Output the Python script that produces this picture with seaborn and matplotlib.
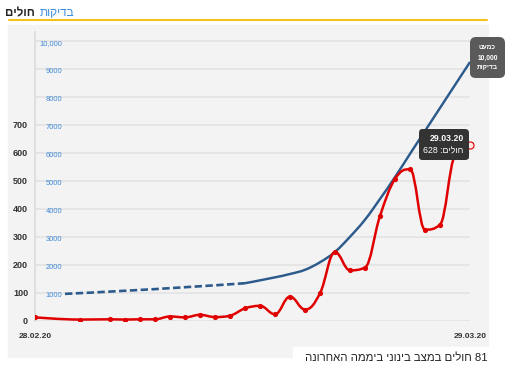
import re
import matplotlib
matplotlib.use('Agg')
import matplotlib.pyplot as plt
import seaborn as sns
from matplotlib.path import Path
from matplotlib.patches import PathPatch, Rectangle
from matplotlib.lines import Line2D
from matplotlib.offsetbox import AnnotationBbox, TextArea, VPacker
from matplotlib.ticker import FuncFormatter

# patients (red), day index from 28.02.20
days = [0, 3, 5, 6, 7, 8, 9, 10, 11, 12, 13, 14, 15, 16, 17, 18, 19, 20,
        21, 22, 23, 24, 25, 26, 27, 28, 29]
patients = [12, 4, 5, 4, 5, 5, 15, 12, 21, 13, 18, 44, 53, 23, 86, 40, 98, 245,
            180, 190, 374, 506, 541, 325, 343, 592, 628]

# tests (blue), dashed part up to day 14
test_days = [2, 8, 14, 16, 17, 18, 19, 20, 21, 22, 23, 24, 25, 26, 27, 28, 29]
tests = [1040, 1210, 1420, 1630, 1750, 1900, 2170, 2540, 3080, 3690, 4430,
         5210, 6040, 6860, 7680, 8500, 9320]
dashed_until = 3

date_labels = ['28.02.20', '29.03.20']
patient_ticks = [0, 100, 200, 300, 400, 500, 600, 700]
test_ticks = [1000, 2000, 3000, 4000, 5000, 6000, 7000, 8000, 9000, 10000]

title_active = 'חולים'
title_link = 'בדיקות'
tooltip_date = '29.03.20'
tooltip_text = 'חולים: 628'
bubble_lines = ['כמעט', '10,000', 'בדיקות']
footer = '81 חולים במצב בינוני ביממה האחרונה'

RED = '#e10000'
BLUE = '#2d5a8c'
LABEL_BLUE = '#4189d6'


def vis(s):
    # matplotlib has no bidi support, so put hebrew into visual order
    r = s[::-1]
    return re.sub(r'[0-9][0-9.,]*[0-9]|[0-9]', lambda m: m.group()[::-1], r)


def spline(xs, ys):
    # highcharts-like spline (smoothing 1.5)
    sm, den = 1.5, 2.5
    n = len(xs)
    left, right = [None] * n, [None] * n
    for i in range(n):
        px, py = xs[i], ys[i]
        if i == 0 or i == n - 1:
            left[i] = right[i] = (px, py)
            continue
        lx, ly = xs[i - 1], ys[i - 1]
        nx, ny = xs[i + 1], ys[i + 1]
        lcx, lcy = (sm * px + lx) / den, (sm * py + ly) / den
        rcx, rcy = (sm * px + nx) / den, (sm * py + ny) / den
        if rcx != lcx:
            corr = (rcy - lcy) * (rcx - px) / (rcx - lcx) + py - rcy
            lcy += corr
            rcy += corr
        if lcy > ly and lcy > py:
            lcy = max(ly, py); rcy = 2 * py - lcy
        elif lcy < ly and lcy < py:
            lcy = min(ly, py); rcy = 2 * py - lcy
        if rcy > ny and rcy > py:
            rcy = max(ny, py); lcy = 2 * py - rcy
        elif rcy < ny and rcy < py:
            rcy = min(ny, py); lcy = 2 * py - rcy
        left[i], right[i] = (lcx, lcy), (rcx, rcy)
    verts = [(xs[0], ys[0])]
    codes = [Path.MOVETO]
    for i in range(1, n):
        verts += [right[i - 1], left[i], (xs[i], ys[i])]
        codes += [Path.CURVE4] * 3
    return Path(verts, codes)


sns.set_style('white')
plt.rcParams['font.family'] = ['Liberation Sans', 'DejaVu Sans']

W, H = 514, 389
fx = lambda p: p / W
fy = lambda p: 1 - p / H

fig = plt.figure(figsize=(W / 100, H / 100), dpi=100)

# page furniture
fig.add_artist(Rectangle((fx(8), fy(357)), fx(488) - fx(8), fy(25) - fy(357),
                         transform=fig.transFigure, color='#f3f3f3', zorder=-2))
fig.add_artist(Rectangle((fx(293), fy(389)), fx(492) - fx(293), fy(347) - fy(389),
                         transform=fig.transFigure, color='white', zorder=-1))
fig.add_artist(Line2D([fx(9), fx(487)], [fy(20), fy(20)], color='#f2c21b', lw=1.5))
fig.text(fx(5), fy(13), vis(title_active), ha='left', va='center', fontsize=8.3,
         fontweight='bold', color='#222222')
fig.text(fx(40), fy(13), vis(title_link), ha='left', va='center', fontsize=8.5,
         color='#3b8ee0')
fig.text(fx(488), fy(358), vis(footer), ha='right', va='center', fontsize=8.2,
         color='#222222')

ax = fig.add_axes([fx(35), fy(320.7), fx(470) - fx(35), fy(32.3) - fy(320.7)])
ax.set_facecolor('none')
ax.set_xlim(0, 29)
ax.set_ylim(0, 1030)
ax.set_yticks(range(0, 1001, 100))
ax.yaxis.set_major_formatter(FuncFormatter(
    lambda v, p: f'{int(v)}' if v in patient_ticks else ''))
ax.grid(axis='y', color='#e4e4e4', lw=1.3)
ax.set_axisbelow(True)
ax.set_xticks([0, 29])
ax.set_xticklabels(date_labels)
ax.tick_params(axis='x', length=0, pad=9, labelsize=6, labelcolor='#333333')
ax.tick_params(axis='y', length=0, pad=5, labelsize=6.5, labelcolor='#333333')
for t in ax.get_xticklabels() + ax.get_yticklabels():
    t.set_fontweight('bold')
sns.despine(ax=ax, top=True, right=True, bottom=True)
ax.spines['left'].set_color('#dcdcdc')
ax.spines['left'].set_linewidth(1.2)

# tests scale, labels drawn inside the plot
ax2 = ax.twinx()
ax2.set_ylim(82, 10382)
ax2.set_yticks(test_ticks)
ax2.yaxis.set_major_formatter(FuncFormatter(
    lambda v, p: f'{int(v):,}' if v >= 10000 else f'{int(v)}'))
ax2.yaxis.tick_left()
ax2.tick_params(axis='y', length=0, pad=-19.5, labelsize=5.4, labelcolor=LABEL_BLUE)
for s in ax2.spines.values():
    s.set_visible(False)
ax2.patch.set_visible(False)

# blue tests line (drawn on ax with the tests scale)
ax.add_patch(PathPatch(spline(test_days[:dashed_until], tests[:dashed_until]),
                       transform=ax2.transData, fill=False, ec=BLUE, lw=1.9,
                       ls=(0, (2.8, 1.3)), capstyle='butt', zorder=3))
ax.add_patch(PathPatch(spline(test_days[dashed_until - 1:], tests[dashed_until - 1:]),
                       transform=ax2.transData, fill=False, ec=BLUE, lw=1.75,
                       zorder=3))

# red patients line
ax.add_patch(PathPatch(spline(days, patients), fill=False, ec=RED, lw=1.8, zorder=4))
sns.scatterplot(x=days[:-1], y=patients[:-1], ax=ax, color=RED, s=14, linewidth=0,
                zorder=5, legend=False)
sns.scatterplot(x=days[-1:], y=patients[-1:], ax=ax, color='#ffe5e5', s=26,
                edgecolor=RED, linewidth=0.8, zorder=6, legend=False, clip_on=False)

# tooltip
tip = VPacker(children=[
    TextArea(tooltip_date, textprops=dict(color='white', fontsize=6.3, fontweight='bold')),
    TextArea(vis(tooltip_text), textprops=dict(color='white', fontsize=6.3)),
], align='right', pad=0, sep=2.5)
ab = AnnotationBbox(tip, (days[-1], patients[-1]), xybox=(-4.5, 0),
                    boxcoords='offset points', box_alignment=(1, 0.5),
                    pad=0.35, annotation_clip=False, zorder=7,
                    bboxprops=dict(boxstyle='round,pad=0.35,rounding_size=0.25',
                                   fc='#333333', ec='none'))
ax.add_artist(ab)

# bubble at the end of the tests line
bub = VPacker(children=[
    TextArea(vis(t) if not t[0].isdigit() else t,
             textprops=dict(color='white', fontsize=4.8, fontweight='bold'))
    for t in bubble_lines], align='center', pad=0, sep=2.2)
ab2 = AnnotationBbox(bub, (test_days[-1], tests[-1]), xybox=(5, 3),
                     boxcoords='offset points', box_alignment=(0, 0.5),
                     pad=0.5, annotation_clip=False, zorder=7,
                     bboxprops=dict(boxstyle='round,pad=0.5,rounding_size=0.4',
                                    fc='#5a5a5a', ec='none'))
ax2.add_artist(ab2)

fig.savefig('out.png', dpi=100, facecolor='white')
